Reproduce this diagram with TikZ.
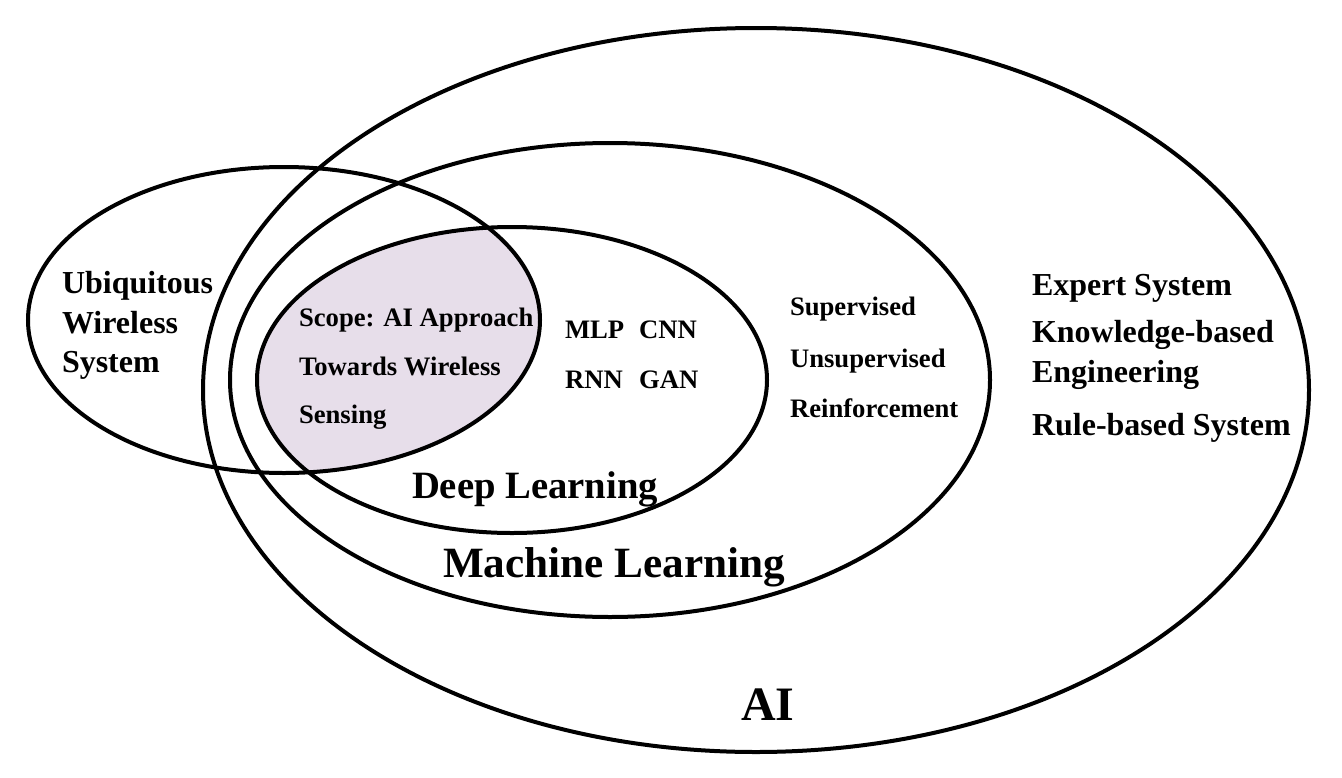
\documentclass[tikz,border=0pt]{standalone}
\usepackage{fontspec}
\setmainfont{Liberation Serif}
\definecolor{scopefill}{RGB}{231,222,234}
\begin{document}
\begin{tikzpicture}[x=0.75pt,y=-0.75pt,line width=3pt,
  lbl/.style={anchor=base west,inner sep=0pt},
  fa/.style={font=\bfseries\fontsize{20}{24}\selectfont},
  fb/.style={font=\bfseries\fontsize{24}{28}\selectfont},
  fc/.style={font=\bfseries\fontsize{29}{34}\selectfont},
  fd/.style={font=\bfseries\fontsize{32.4}{38}\selectfont},
  fe/.style={font=\bfseries\fontsize{36}{42}\selectfont}]
\useasboundingbox (0,0) rectangle (1342,778);
% scope region = intersection of wireless and deep learning ellipses
\begin{scope}
  \clip (284,320) ellipse [x radius=256*0.75pt, y radius=153*0.75pt];
  \fill[scopefill] (512,380) ellipse [x radius=255*0.75pt, y radius=153*0.75pt];
\end{scope}
% ellipses
\draw (756,390) ellipse [x radius=553*0.75pt, y radius=362*0.75pt];
\draw (610,380) ellipse [x radius=380*0.75pt, y radius=237*0.75pt];
\draw (512,380) ellipse [x radius=255*0.75pt, y radius=153*0.75pt];
\draw (284,320) ellipse [x radius=256*0.75pt, y radius=153*0.75pt];
% labels
\node[lbl,fb] (ubi) at (60,293) {Ubiquitous};
\node[lbl,fb] (wir) at (60,333) {Wireless};
\node[lbl,fb] (sys) at (60,372) {System};
\node[lbl,fa] (sc1) at (297,326) {Scope: AI Approach};
\node[lbl,fa] (sc2) at (297,375) {Towards Wireless};
\node[lbl,fa] (sc3) at (297,423) {Sensing};
\node[lbl,fa] (mlp) at (563,338) {MLP};
\node[lbl,fa] (cnn) at (637,338) {CNN};
\node[lbl,fa] (rnn) at (563,388) {RNN};
\node[lbl,fa] (gan) at (637,388) {GAN};
\node[lbl,fa] (sup) at (788,315) {Supervised};
\node[lbl,fa] (uns) at (788,367) {Unsupervised};
\node[lbl,fa] (rei) at (788,417) {Reinforcement};
\node[lbl,fb] (exp) at (1030,295) {Expert System};
\node[lbl,fb] (kno) at (1030,342) {Knowledge-based};
\node[lbl,fb] (eng) at (1030,382) {Engineering};
\node[lbl,fb] (rul) at (1030,435) {Rule-based System};
\node[lbl,fc] (dl) at (410,498) {Deep Learning};
\node[lbl,fd] (ml) at (441,577) {Machine Learning};
\node[lbl,fe] (ai) at (739,720) {AI};
\end{tikzpicture}
\end{document}
